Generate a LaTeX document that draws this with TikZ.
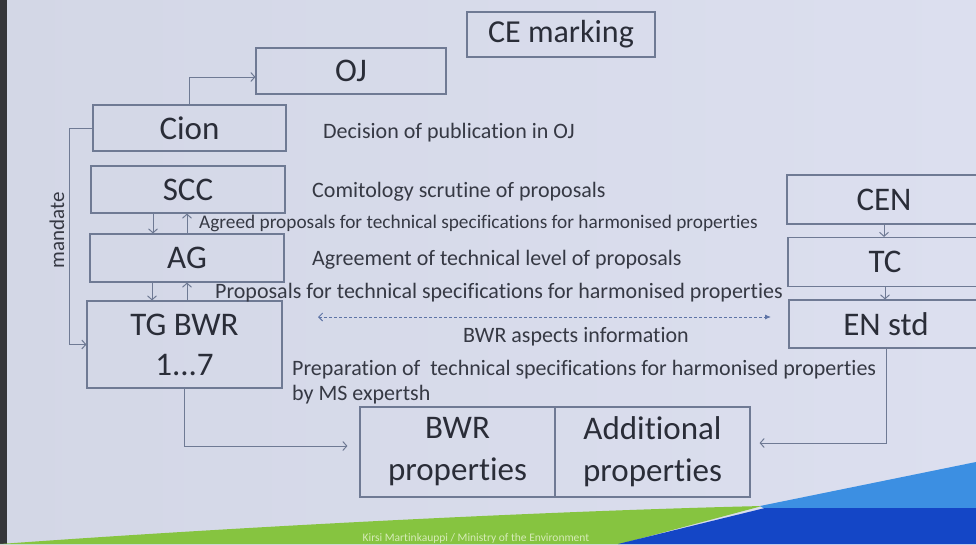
\documentclass[tikz,border=0pt]{standalone}
\usepackage{fontspec}
\setmainfont{Carlito}[Ligatures={NoCommon}, RawFeature={-liga;-clig;-calt;-dlig;-rlig}]
\usetikzlibrary{arrows.meta,calc}
\definecolor{bgl}{HTML}{D3D7E6}
\definecolor{bgr}{HTML}{DCDFEF}
\definecolor{boxc}{HTML}{6F7A94}
\definecolor{txt}{HTML}{2A2D38}
\definecolor{txtb}{HTML}{363944}
\definecolor{dashc}{HTML}{5E74A6}
\definecolor{gband}{HTML}{86C440}
\definecolor{lblue}{HTML}{3C8FE2}
\definecolor{dblue}{HTML}{1446C6}
\definecolor{foot}{HTML}{D6EBB8}
\begin{document}
\begin{tikzpicture}[x=1pt,y=-1pt,
  box/.style={draw=boxc, line width=1.1pt, inner sep=0pt, text=txt,
    font=\fontsize{33}{40}\selectfont, align=center},
  desc/.style={anchor=base west, inner sep=0pt, text=txtb,
    font=\fontsize{22}{26}\selectfont},
  arr/.style={draw=boxc, line width=1pt, -{Straight Barb[length=4pt,width=9pt]}}]
\useasboundingbox (0,0) rectangle (976,544);
\clip (0,0) rectangle (976,544);
% background
\shade[left color=bgl, right color=bgr] (0,0) rectangle (976,544);
\fill[black!75!bgl] (0,0) rectangle (7,544);
\fill[gband] (0,544) .. controls (250,526) and (550,511) .. (762,506) -- (620,544) -- cycle;
\fill[lblue] (760,506) -- (976,462) -- (976,509) -- (765,509) -- cycle;
\fill[dblue] (618,544) -- (765,508) -- (976,508) -- (976,544) -- cycle;
\node[inner sep=0pt, text=foot, font=\fontsize{11.5}{12}\selectfont] (footer) at (476,538) {Kirsi Martinkauppi / Ministry of the Environment};

% boxes
\node[box, minimum width=188pt, minimum height=45pt, font=\fontsize{32}{40}\selectfont] (CE) at (561,34.5) {CE marking};
\node[box, minimum width=190pt, minimum height=46pt] (OJ) at (351,71) {OJ};
\node[box, minimum width=193pt, minimum height=46pt] (Cion) at (189.5,128) {Cion};
\node[box, minimum width=194pt, minimum height=47pt] (SCC) at (188,189.5) {SCC};
\node[box, minimum width=194pt, minimum height=48pt] (AG) at (187,258) {AG};
\node[box, minimum width=195pt, minimum height=87pt] (TG) at (184.5,344.5) {TG BWR\\1...7};
\node[box, minimum width=195pt, minimum height=90pt, font=\fontsize{33}{42}\selectfont] (BWR) at (457.5,452) {BWR\\properties};
\node[box, minimum width=195pt, minimum height=90pt, font=\fontsize{33}{42}\selectfont] (Add) at (652.5,452) {Additional\\properties};
\node[box, minimum width=194pt, minimum height=49pt] (CEN) at (884,199.5) {CEN};
\node[box, minimum width=194pt, minimum height=49pt] (TC) at (885,262) {TC};
\node[box, minimum width=194pt, minimum height=48pt] (ENstd) at (886,324) {EN std};

% descriptions
\node[desc] (d1) at (323,138) {Decision of publication in OJ};
\node[desc] (d2) at (312,197) {Comitology scrutine of proposals};
\node[desc, font=\fontsize{19.3}{22}\selectfont] (d3) at (199,228) {Agreed proposals for technical specifications for harmonised properties};
\node[desc] (d4) at (312,265) {Agreement of technical level of proposals};
\node[desc] (d5) at (215,298) {Proposals for technical specifications for harmonised properties};
\node[desc] (d6) at (463,342) {BWR aspects information};
\node[desc] (d7) at (292,375) {Preparation of\ \ technical specifications for harmonised properties};
\node[desc] (d8) at (292,400) {by MS expertsh};
\node[rotate=90, inner sep=0pt, text=txtb, font=\fontsize{21}{24}\selectfont] (mand) at (57,230) {mandate};

% connectors
\draw[arr] (Cion.north) |- ([yshift=-6pt]OJ.west);
\draw[arr] (Cion.west) -- ++(-23,0) |- (TG.west);
\draw[arr] ([xshift=-35pt]SCC.south) -- ([xshift=-35pt]SCC.south |- AG.north);
\draw[arr] (AG.north) -- (AG.north |- SCC.south);
\draw[arr] ([xshift=-35pt]AG.south) -- ([xshift=-35pt]AG.south |- TG.north);
\draw[arr] (AG.south |- TG.north) -- (AG.south);
\draw[arr, shorten >=12pt] (TG.south) |- ([yshift=6pt]BWR.west);
\draw[arr, shorten >=9pt] (ENstd.south) |- ([yshift=9pt]Add.east);
\draw[arr] (CEN.south) -- (CEN.south |- TC.north);
\draw[arr] (TC.south) -- (TC.south |- ENstd.north);
\coordinate (dl) at (318,317);
\coordinate (dr) at (771,317);
\draw[dashc, line width=0.9pt, dash pattern=on 3pt off 2pt,
  {Straight Barb[length=4pt,width=8pt]}-{Latex[length=6pt,width=5pt]}] (dl) -- (dr);
\end{tikzpicture}
\end{document}
